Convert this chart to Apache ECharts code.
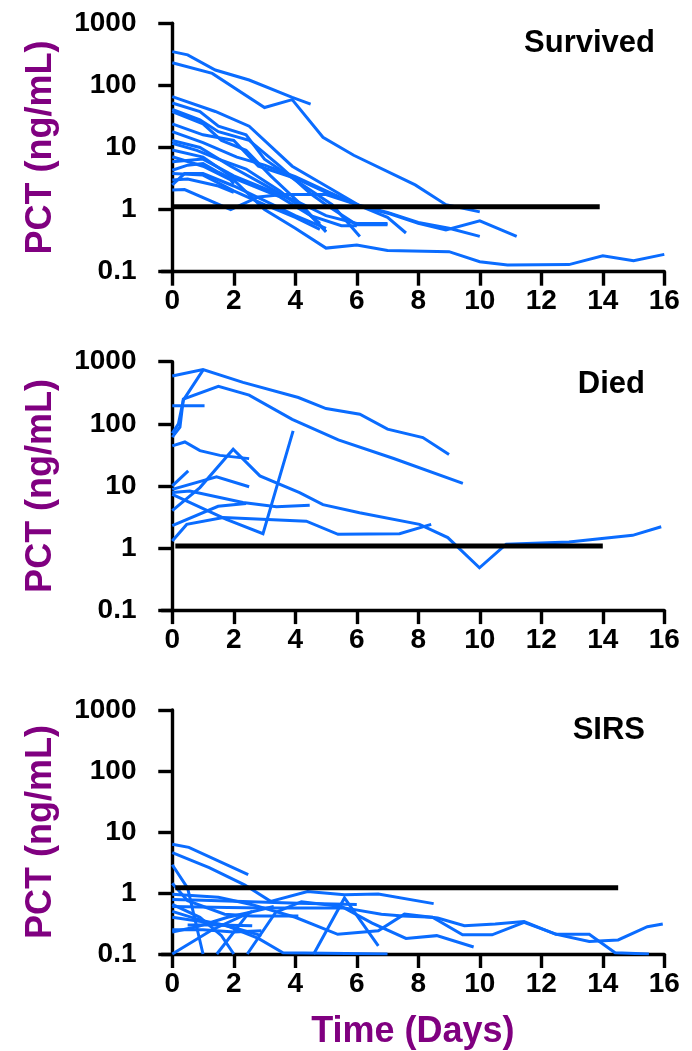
<!DOCTYPE html>
<html>
<head>
<meta charset="utf-8">
<script src="https://cdn.jsdelivr.net/npm/echarts@6/dist/echarts.min.js"></script>
<style>
html,body{margin:0;padding:0;background:#fff;}
#chart{width:692px;height:1051px;}
</style>
</head>
<body>
<div id="chart"></div>
<script>
// ---- data ----
const xTicks = [0, 2, 4, 6, 8, 10, 12, 14, 16];
const yTicks = [0.1, 1, 10, 100, 1000];
const yTickLabels = ['0.1', '1', '10', '100', '1000'];
const panelTitles = ['Survived', 'Died', 'SIRS'];
const yTitle = 'PCT (ng/mL)';
const xTitle = 'Time (Days)';

// threshold segments [x0, x1, value]
const thresholds = [[0.03, 13.9, 1.11], [0.1, 14.0, 1.08], [0.1, 14.5, 1.22]];

const survivedLines = [
  [[0,350],[0.5,310],[1.4,177],[2.5,122],[3.9,64],[4.5,50]],
  [[0,232],[1.3,156],[3.0,44],[3.9,59],[4.9,14.6],[5.9,7.5],[7.9,2.5],[8.9,1.2],[10,0.92]],
  [[0,66],[1.4,38],[2.5,22],[3.9,5],[5.0,2.4],[6.1,1.15],[7.1,0.85],[8,0.6],[8.9,0.47],[10,0.66],[11.2,0.37]],
  [[0,52],[0.9,38],[1.5,22],[2.4,16],[3.0,6.5],[4.0,3.0],[5.2,1.2],[6.1,0.37]],
  [[0,41],[0.9,28],[1.5,18],[2.5,13],[3.5,5],[4.5,1.8],[5.0,1.2],[6,0.57],[7,0.57]],
  [[0,38],[1,24],[1.6,13],[2.4,9],[3.2,3.5],[4.2,1.2],[5,0.44]],
  [[0,24],[1,16],[2,13],[2.8,5],[4,3.2],[5,1.9],[6,1.2],[7,0.75],[7.6,0.42]],
  [[0,18],[1,12],[2.1,7],[3.0,5.2],[4,3.4],[5,2.0],[6,1.2],[7,0.9],[8,0.62],[9,0.5],[10,0.37]],
  [[0,13],[0.9,10],[1.9,5],[3,2.5],[4,1.3],[4.8,0.6]],
  [[0,11.7],[0.8,9],[1.5,6.5],[2.4,4.5],[3.5,2],[4.5,0.8],[5.0,0.44]],
  [[0,9.1],[1,7],[2,3.2],[3.5,1.6],[4.5,0.8],[5.5,0.55],[6,0.55]],
  [[0,7.1],[1,5],[1.9,3],[2.0,2.6]],
  [[0,5.9],[1,6.5],[2,3.5],[3,2.2],[4,1.4],[5,0.8],[6,0.6],[7,0.6]],
  [[0,4.3],[0.5,5.2],[1,5.5],[1.5,4],[2,3],[3,1.0],[4,0.5],[5,0.24],[6,0.27],[7,0.22],[9,0.21],[10,0.145],[10.9,0.128],[12.9,0.13],[14,0.18],[15,0.15],[16,0.19]],
  [[0,3.8],[1,3.6],[2,2],[3,1.2],[4,0.75],[4.8,0.48]],
  [[0,3.0],[0.5,3.1],[1.5,2.4],[2,1.9]],
  [[0,2.07],[0.4,2.1],[1.9,1.0],[2.8,1.6],[3.6,1.75],[5,1.75],[6,1.2]],
  [[0,2.5],[0.4,3.8],[1,3.8],[2,2.4],[3,1.4],[4,0.8],[5,0.5]]
];

const diedLines = [
  [[0,590],[1.0,745],[2.3,465],[4.1,265],[5.0,176],[6.1,143],[7.0,82],[8.15,60],[9.0,32]],
  [[0,61],[0.25,88],[0.36,250],[1.5,400],[2.5,290],[3.9,118],[5.4,55],[7.2,27.6],[9.45,11]],
  [[0,70],[0.2,100],[0.36,240],[1.0,730]],
  [[0,195],[1.05,195]],
  [[0,44],[0.41,51],[0.9,37],[1.55,31],[2.5,27.5]],
  [[0,10],[0.52,17.5]],
  [[0,4.0],[0.9,9.4],[1.98,39],[2.85,14.5],[4.14,7.8],[4.9,5.0],[6.09,3.7],[8.04,2.4],[8.96,1.47],[9.99,0.48],[10.86,1.15],[12.9,1.25],[14.97,1.6],[15.9,2.2]],
  [[0,8.8],[1.44,14],[2.5,9.7]],
  [[0,7.8],[0.57,8.3],[2.3,5.4],[3.39,4.6],[4.47,4.9]],
  [[0,7.3],[1.76,2.9],[2.95,1.7],[3.93,77]],
  [[0,2.3],[1.49,4.7],[2.4,5.2]],
  [[0,1.3],[0.47,2.4],[1.66,3.1],[4.36,2.7],[5.39,1.66],[7.39,1.7],[8.42,2.4]]
];

const sirsLines = [
  [[0,6.3],[0.54,5.6],[2.47,2.0]],
  [[0,4.6],[1.2,2.6],[2.35,1.36],[3.2,0.73],[4.4,1.06],[5.6,0.94],[6.7,0.96],[8.5,0.67]],
  [[0,2.9],[0.5,1.2],[1.0,0.1]],
  [[0,1.45],[0.5,0.75],[1.7,0.45],[2.6,0.42],[4.1,0.42]],
  [[0,0.95],[1.5,0.85],[2.57,0.65],[4,0.4],[5.38,0.21],[6.7,0.24],[7.55,0.45],[8.63,0.39],[9.5,0.29],[10.5,0.31],[11.44,0.34],[12.47,0.21],[13.56,0.21],[14.4,0.105],[15.5,0.1]],
  [[0,0.78],[1,0.76],[4.1,0.68],[6.0,0.65]],
  [[0,0.6],[1.8,0.58],[3,0.57],[5.6,0.57],[6.8,0.45],[7.5,0.42],[8.46,0.40],[9.44,0.206],[10.4,0.206],[11.44,0.33],[12.5,0.21],[13.56,0.16],[14.5,0.17],[15.45,0.28],[15.95,0.31]],
  [[0,0.5],[1,0.35],[1.9,0.28],[2.9,0.2]],
  [[0,0.4],[1.7,0.3],[2.8,0.18],[3.6,0.105],[7,0.1]],
  [[0,0.1],[1.3,0.25],[2.6,0.5]],
  [[0,0.23],[0.8,0.28],[1.8,0.4],[2.5,0.48],[3.3,0.6]],
  [[1.45,0.1],[2.5,0.48]],
  [[2.44,0.1],[3.36,0.48],[4.2,0.72],[5.5,0.6],[6.5,0.32],[7.6,0.18],[8.6,0.2],[9.8,0.13]],
  [[4.6,0.1],[5.6,0.83],[5.8,0.6],[6.7,0.136]],
  [[0.5,0.3],[1.5,0.3],[2.6,0.29]],
  [[0,0.25],[1,0.25],[2,0.23],[2.9,0.24]],
  [[0,0.65],[0.9,0.4],[1.6,0.2],[2,0.1]]
];

const panels = [survivedLines, diedLines, sirsLines];

// ---- styling / layout ----
const BLUE = '#0A6CFF';
const PURPLE = '#800080';
const FONT = 'Liberation Sans, Arial, sans-serif';
const gridTops = [23.3, 361.7, 710];
const gridH = 248.4;
const titlePos = [[655, 43], [645, 384], [645, 730]];

const chart = echarts.init(document.getElementById('chart'), null, {renderer: 'canvas'});

const grids = [], xAxes = [], yAxes = [], series = [], graphics = [];
panels.forEach((lines, i) => {
  grids.push({left: 161.5, right: 27.7, top: gridTops[i], height: gridH, containLabel: false});
  xAxes.push({
    gridIndex: i, type: 'value', min: -0.35, max: 16,
    axisLine: {show: true, onZero: false, lineStyle: {color: '#000', width: 3.4}},
    axisTick: {show: true, length: 14, customValues: xTicks, lineStyle: {color: '#000', width: 3.4}},
    axisLabel: {show: true, customValues: xTicks, fontSize: 28, fontWeight: 'bold', color: '#000', fontFamily: FONT, margin: 16},
    splitLine: {show: false},
    name: i === 2 ? xTitle : '', nameLocation: 'middle', nameGap: 60,
    nameTextStyle: {fontSize: 36, fontWeight: 'bold', color: PURPLE, fontFamily: FONT}
  });
  yAxes.push({
    gridIndex: i, type: 'log', logBase: 10, min: 0.1, max: 1000,
    axisLine: {show: true, onZero: true, lineStyle: {color: '#000', width: 3.4}},
    axisTick: {show: true, length: 14, lineStyle: {color: '#000', width: 3.4}},
    axisLabel: {fontSize: 28, fontWeight: 'bold', color: '#000', fontFamily: FONT, margin: 25,
      formatter: v => {
        const k = yTicks.findIndex(t => Math.abs(Math.log10(t) - Math.log10(v)) < 0.01);
        return k >= 0 ? yTickLabels[k] : '';
      }},
    splitLine: {show: false},
    name: yTitle, nameLocation: 'middle', nameGap: 102, nameRotate: 90,
    nameTextStyle: {fontSize: 36, fontWeight: 'bold', color: PURPLE, fontFamily: FONT}
  });
  lines.forEach(pts => {
    series.push({
      type: 'line', xAxisIndex: i, yAxisIndex: i, data: pts,
      showSymbol: false, symbol: 'none', silent: true, z: 2,
      lineStyle: {color: BLUE, width: 3, cap: 'butt', join: 'miter'}
    });
  });
  const th = thresholds[i];
  series.push({
    type: 'line', xAxisIndex: i, yAxisIndex: i, data: [[th[0], th[2]], [th[1], th[2]]],
    showSymbol: false, symbol: 'none', silent: true, z: 3,
    lineStyle: {color: '#000', width: 5, cap: 'butt'}
  });
  graphics.push({
    type: 'text', x: titlePos[i][0], y: titlePos[i][1],
    style: {text: panelTitles[i], fill: '#000', font: 'bold 31px ' + FONT, textAlign: 'right', textVerticalAlign: 'middle'}
  });
});

chart.setOption({
  animation: false,
  backgroundColor: '#fff',
  grid: grids, xAxis: xAxes, yAxis: yAxes, series: series, graphic: graphics
});
</script>
</body>
</html>
